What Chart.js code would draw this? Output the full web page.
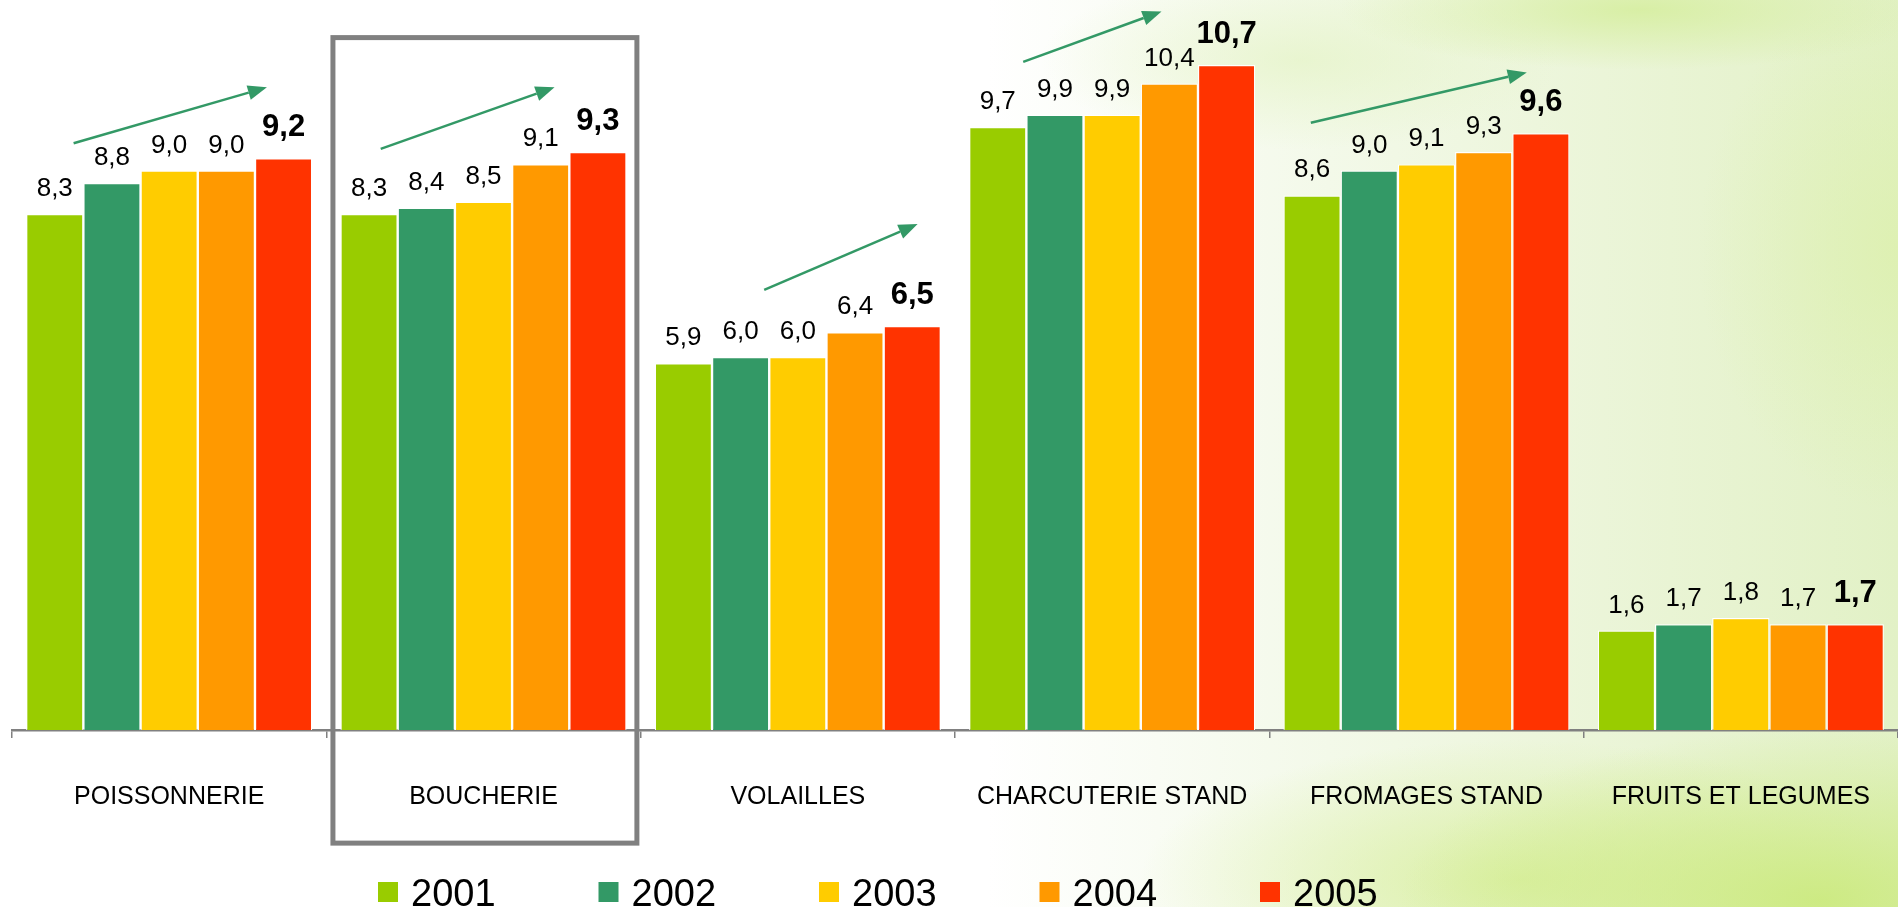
<!DOCTYPE html>
<html>
<head>
<meta charset="utf-8">
<script src="https://cdn.jsdelivr.net/npm/chart.js@4/dist/chart.umd.min.js"></script>
<style>
  html, body { margin: 0; padding: 0; }
  body {
    width: 1898px; height: 907px; overflow: hidden;
    background:
      radial-gradient(ellipse 420px 170px at 1820px 900px, rgba(204,234,128,0.95), rgba(204,234,128,0) 100%),
      radial-gradient(ellipse 380px 140px at 1520px 880px, rgba(214,238,150,0.8), rgba(214,238,150,0) 100%),
      radial-gradient(ellipse 300px 60px at 1640px 10px, rgba(214,238,160,0.9), rgba(214,238,160,0) 100%),
      radial-gradient(ellipse 200px 260px at 1898px 250px, rgba(220,240,170,0.7), rgba(220,240,170,0) 100%),
      radial-gradient(ellipse 260px 90px at 1300px 60px, rgba(225,242,190,0.6), rgba(225,242,190,0) 100%),
      linear-gradient(to right, #ffffff 0%, #ffffff 52%, #f3f9e9 70%, #e9f4d4 88%, #e2f1c6 100%);
  }
  canvas { display: block; }
</style>
</head>
<body>
<canvas id="c" width="1898" height="907"></canvas>
<script>
// ---- Data ----
const categories = ["POISSONNERIE", "BOUCHERIE", "VOLAILLES", "CHARCUTERIE STAND", "FROMAGES STAND", "FRUITS ET LEGUMES"];
const years = ["2001", "2002", "2003", "2004", "2005"];
const v2001 = [8.3, 8.3, 5.9, 9.7, 8.6, 1.6];
const v2002 = [8.8, 8.4, 6.0, 9.9, 9.0, 1.7];
const v2003 = [9.0, 8.5, 6.0, 9.9, 9.1, 1.8];
const v2004 = [9.0, 9.1, 6.4, 10.4, 9.3, 1.7];
const v2005 = [9.2, 9.3, 6.5, 10.7, 9.6, 1.7];
const colors = ["#99cc00", "#339966", "#ffcc00", "#ff9900", "#ff3300"];

// Trend arrows (category index, start/end offsets in category widths, start/end values)
const arrows = [
  { cat: 0, dx0: -0.304, v0: 9.44, dx1: 0.311, v1: 10.34 },
  { cat: 1, dx0: -0.327, v0: 9.35, dx1: 0.226, v1: 10.34 },
  { cat: 2, dx0: -0.107, v0: 7.08, dx1: 0.381, v1: 8.14 },
  { cat: 3, dx0: -0.283, v0: 10.75, dx1: 0.157, v1: 11.56 },
  { cat: 4, dx0: -0.368, v0: 9.77, dx1: 0.319, v1: 10.58 }
];
const highlightedCategory = 1;

const FONT = '"Liberation Sans", Arial, sans-serif';
const seriesValues = [v2001, v2002, v2003, v2004, v2005];

function fmt(v) { return v.toFixed(1).replace('.', ','); }

const valueLabels = {
  id: 'valueLabels',
  afterDatasetsDraw(chart) {
    const ctx = chart.ctx;
    ctx.save();
    ctx.textAlign = 'center';
    ctx.textBaseline = 'alphabetic';
    ctx.fillStyle = '#000';
    chart.data.datasets.forEach((ds, i) => {
      const meta = chart.getDatasetMeta(i);
      const bold = i === chart.data.datasets.length - 1;
      ctx.font = (bold ? 'bold 31px ' : '26px ') + FONT;
      meta.data.forEach((bar, j) => {
        ctx.fillText(fmt(ds.data[j]), bar.x, bar.y - (bold ? 22 : 18));
      });
    });
    ctx.restore();
  }
};

const decorations = {
  id: 'decorations',
  afterDraw(chart) {
    const ctx = chart.ctx;
    const xs = chart.scales.x, ys = chart.scales.y;
    const cw = xs.getPixelForValue(1) - xs.getPixelForValue(0);
    // arrows
    ctx.save();
    ctx.strokeStyle = '#339966';
    ctx.fillStyle = '#339966';
    ctx.lineWidth = 2.5;
    arrows.forEach(a => {
      const c = xs.getPixelForValue(a.cat);
      const x0 = c + a.dx0 * cw, y0 = ys.getPixelForValue(a.v0);
      const x1 = c + a.dx1 * cw, y1 = ys.getPixelForValue(a.v1);
      const ang = Math.atan2(y1 - y0, x1 - x0);
      const hl = 19, hw = 7.5;
      const bx = x1 - hl * Math.cos(ang), by = y1 - hl * Math.sin(ang);
      ctx.beginPath();
      ctx.moveTo(x0, y0);
      ctx.lineTo(bx, by);
      ctx.stroke();
      ctx.beginPath();
      ctx.moveTo(x1, y1);
      ctx.lineTo(bx + hw * Math.sin(ang), by - hw * Math.cos(ang));
      ctx.lineTo(bx - hw * Math.sin(ang), by + hw * Math.cos(ang));
      ctx.closePath();
      ctx.fill();
    });
    ctx.restore();
    // highlight box around a category
    const hc = xs.getPixelForValue(highlightedCategory);
    ctx.save();
    ctx.strokeStyle = '#808080';
    ctx.lineWidth = 5;
    const left = hc - 0.479 * cw, right = hc + 0.488 * cw;
    const top = ys.getPixelForValue(11.14), bottom = ys.getPixelForValue(-1.82);
    ctx.strokeRect(left, top, right - left, bottom - top);
    ctx.restore();
    // legend
    ctx.save();
    ctx.font = '38px ' + FONT;
    ctx.textBaseline = 'alphabetic';
    ctx.textAlign = 'left';
    chart.data.datasets.forEach((ds, i) => {
      const x = 378 + i * 220.5;
      ctx.fillStyle = ds.backgroundColor;
      ctx.fillRect(x, 882, 20, 20);
      ctx.fillStyle = '#000';
      ctx.fillText(ds.label, x + 33, 906);
    });
    ctx.restore();
  }
};

new Chart(document.getElementById('c'), {
  type: 'bar',
  data: {
    labels: categories,
    datasets: years.map((y, i) => ({
      label: y,
      data: seriesValues[i],
      backgroundColor: colors[i],
      borderColor: '#ffffff',
      borderWidth: 1.2,
      barPercentage: 1.0,
      categoryPercentage: 0.91
    }))
  },
  options: {
    responsive: false,
    animation: false,
    devicePixelRatio: 1,
    layout: { padding: { left: 12, right: 0, top: 2.8, bottom: 51 } },
    plugins: { legend: { display: false }, tooltip: { enabled: false } },
    scales: {
      x: {
        afterFit(scale) { scale.paddingLeft = 0; scale.paddingRight = 0; },
        grid: { offset: true, drawOnChartArea: false, drawTicks: true, tickLength: 8, color: '#808080', lineWidth: 1.5 },
        border: { display: true, color: '#808080', width: 2.5 },
        ticks: { font: { size: 25, family: FONT }, color: '#000', padding: 44, maxRotation: 0, autoSkip: false }
      },
      y: { display: false, min: 0, max: 11.7 }
    }
  },
  plugins: [valueLabels, decorations]
});
</script>
</body>
</html>
